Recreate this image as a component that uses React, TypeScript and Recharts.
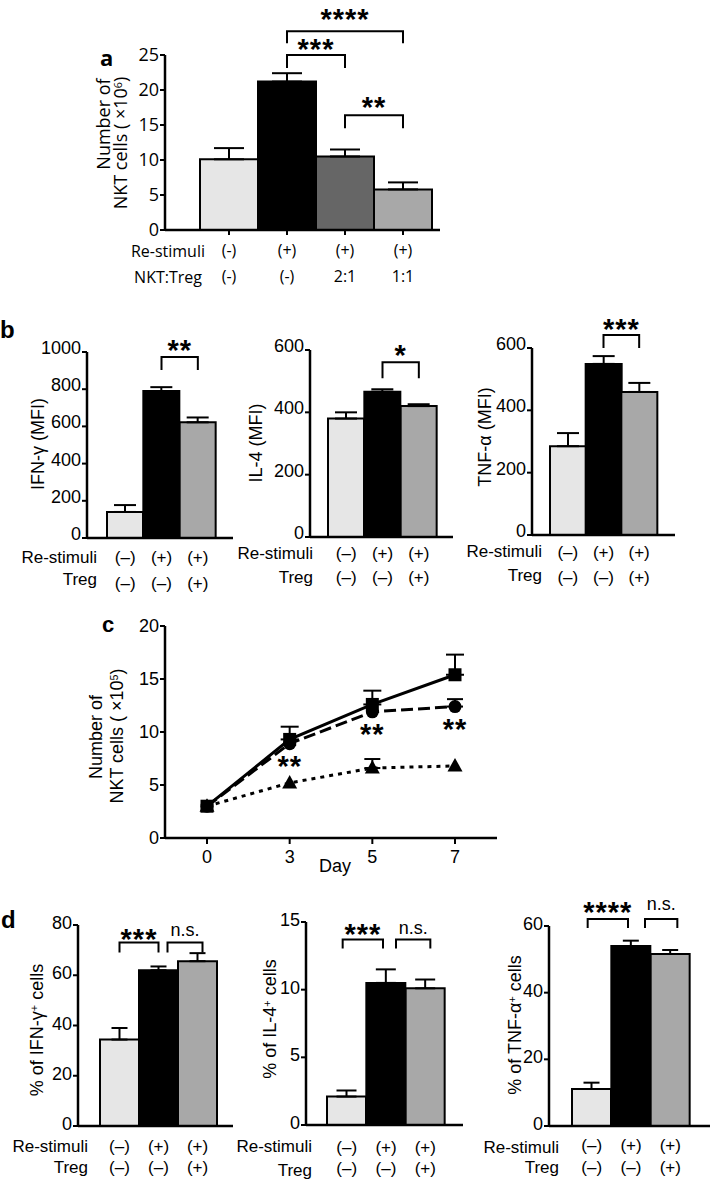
import React from "react";
import { Bar, BarChart, Cell, ErrorBar, LabelList, Line, LineChart, ReferenceLine, XAxis, YAxis } from "recharts";

const W = 713;
const H = 1180;
const SANS = "'Liberation Sans', Arial, sans-serif";
const OPEN = "'Open Sans', sans-serif";

// ---- panel a: NKT cell numbers
const aGroups = ["g1", "g2", "g3", "g4"];
const aRestim = ["(-)", "(+)", "(+)", "(+)"];
const aRatio = ["(-)", "(-)", "2:1", "1:1"];
const aCounts = [10.1, 21.2, 10.5, 5.8];
const aCountsErr = [1.6, 1.2, 1.0, 1.0];
const aTicks = [0, 5, 10, 15, 20, 25];
const aFills = ["#e6e6e6", "#000000", "#666666", "#a8a8a8"];

// ---- panels b, d: three groups
const gGroups = ["g1", "g2", "g3"];
const gRestim = ["(–)", "(+)", "(+)"];
const gTreg = ["(–)", "(–)", "(+)"];
const gFills = ["#e6e6e6", "#000000", "#a8a8a8"];

const ifnMfi = [140, 790, 622];
const ifnMfiErr = [37, 21, 26];
const il4Mfi = [380, 466, 420];
const il4MfiErr = [20, 8, 6];
const tnfMfi = [285, 549, 459];
const tnfMfiErr = [42, 25, 29];
const mfiTicks1000 = [0, 200, 400, 600, 800, 1000];
const mfiTicks600 = [0, 200, 400, 600];

const ifnPct = [34.4, 62, 65.6];
const ifnPctErr = [4.6, 1.5, 3.2];
const il4Pct = [2.1, 10.5, 10.1];
const il4PctErr = [0.45, 1.0, 0.65];
const tnfPct = [11.1, 54, 51.6];
const tnfPctErr = [1.9, 1.6, 1.2];
const pctTicks80 = [0, 20, 40, 60, 80];
const pctTicks15 = [0, 5, 10, 15];
const pctTicks60 = [0, 20, 40, 60];

// ---- panel c: growth curve
const days = ["0", "3", "5", "7"];
const restimOnly = [3.0, 9.3, 12.6, 15.4];
const restimOnlyErr = [null, 1.2, 1.3, 1.9];
const treg21 = [3.0, 8.9, 11.9, 12.4];
const treg21Err = [null, null, null, 0.7];
const treg11 = [3.0, 5.2, 6.6, 6.8];
const treg11Err = [null, null, 0.85, null];
const sigMarks = ["", "**", "**", "**"];
const cTicks = [0, 5, 10, 15, 20];

const YW = 50;
const MT = 60;
const MR = 4;
const XH = 60;
const AXIS = { stroke: "#000", strokeWidth: 2.5 };
const TICKLINE = { stroke: "#000", strokeWidth: 2 };

type Bracket = { from: string; to: string; y: number; text: string; drop: number; lift: number; nl?: number; nr?: number };

function bracketShape(b: Bracket, font: string) {
  return (props: any) => {
    const { x1, y1, x2 } = props;
    const a = x1 + (b.nl || 0);
    const c = x2 + (b.nr || 0);
    const stars = b.text.includes("*");
    const fs = stars ? 29 : 18;
    const base = y1 - b.lift + (stars ? 17 : 5);
    return (
      <g>
        <path d={`M${a},${y1 + b.drop}V${y1}H${c}V${y1 + b.drop}`} fill="none" stroke="#000" strokeWidth={2} />
        <text x={(a + c) / 2} y={base} textAnchor="middle" fontSize={fs} fontWeight={stars ? 700 : 400} fontFamily={stars ? SANS : font} letterSpacing={stars ? 1 : 0} fill="#000">
          {b.text}
        </text>
      </g>
    );
  };
}

function Txt({ x, y, anchor = "start", size = 17, font = SANS, weight = 400, rotate = false, children }: any) {
  const style: React.CSSProperties = {
    position: "absolute",
    top: y,
    fontSize: size,
    fontFamily: font,
    fontWeight: weight,
    lineHeight: 1,
    whiteSpace: "nowrap",
    color: "#000",
  };
  if (rotate) {
    style.left = x;
    style.transform = "translate(-50%, -50%) rotate(-90deg)";
  } else if (anchor === "end") {
    style.right = W - x;
    style.transform = "translateY(-50%)";
  } else if (anchor === "middle") {
    style.left = x;
    style.transform = "translate(-50%, -50%)";
  } else {
    style.left = x;
    style.transform = "translateY(-50%)";
  }
  return <div style={style}>{children}</div>;
}

const Sup = ({ children }: any) => (
  <span style={{ fontSize: "0.6em", position: "relative", top: "-0.5em" }}>{children}</span>
);

type BarPanelProps = {
  box: { x0: number; y0: number; x1: number; y1: number; padL: number; padR: number };
  groups: string[];
  values: number[];
  errs: number[];
  fills: string[];
  domain: [number, number];
  ticks: number[];
  rowA: string[];
  rowB: string[];
  rowDy: [number, number];
  font: string;
  tickFont: number;
  rowFont: number;
  capW: number;
  yShift: number;
  xTicks: boolean;
  brackets: Bracket[];
};

function BarPanel(p: BarPanelProps) {
  const { x0, y0, x1, y1, padL, padR } = p.box;
  const width = YW + (x1 - x0) + MR;
  const height = MT + (y1 - y0) + XH;
  const data = p.groups.map((g, i) => ({ g, v: p.values[i], e: [0, p.errs[i]] }));
  const xTickSize = p.xTicks ? 5 : 0;
  return (
    <div style={{ position: "absolute", left: x0 - YW, top: y0 - MT }}>
      <BarChart width={width} height={height} data={data} margin={{ top: MT, right: MR, left: 0, bottom: 0 }} barCategoryGap={0}>
        <XAxis
          dataKey="g"
          type="category"
          height={XH}
          padding={{ left: padL, right: padR }}
          axisLine={AXIS}
          tickLine={p.xTicks ? TICKLINE : false}
          tickSize={xTickSize}
          tickMargin={0}
          interval={0}
          tick={(t: any) => {
            const idx = t.index ?? t.payload?.index ?? 0;
            const base = t.y - xTickSize;
            return (
              <g>
                <text x={t.x} y={base + p.rowDy[0]} textAnchor="middle" dominantBaseline="central" fontSize={p.rowFont} fontFamily={p.font} fill="#000">
                  {p.rowA[idx]}
                </text>
                <text x={t.x} y={base + p.rowDy[1]} textAnchor="middle" dominantBaseline="central" fontSize={p.rowFont} fontFamily={p.font} fill="#000">
                  {p.rowB[idx]}
                </text>
              </g>
            );
          }}
        />
        <YAxis
          type="number"
          domain={p.domain}
          ticks={p.ticks}
          width={YW}
          interval={0}
          axisLine={AXIS}
          tickLine={TICKLINE}
          tickSize={5}
          tickMargin={1}
          tick={(t: any) => (
            <text x={t.x} y={t.y + p.yShift} textAnchor="end" dominantBaseline="central" fontSize={p.tickFont} fontFamily={p.font} fill="#000">
              {t.payload.value}
            </text>
          )}
        />
        <Bar dataKey="v" stroke="#000" strokeWidth={2} isAnimationActive={false}>
          {data.map((d, i) => (
            <Cell key={d.g} fill={p.fills[i]} />
          ))}
          <ErrorBar dataKey="e" width={p.capW} stroke="#000" strokeWidth={2} direction="y" isAnimationActive={false} />
        </Bar>
        {p.brackets.map((b, i) => (
          <ReferenceLine
            key={i}
            segment={[
              { x: b.from, y: b.y },
              { x: b.to, y: b.y },
            ]}
            ifOverflow="visible"
            shape={bracketShape(b, p.font)}
          />
        ))}
      </BarChart>
    </div>
  );
}

function GrowthPanel() {
  const x0 = 165, y0 = 626, x1 = 497, y1 = 838;
  const width = YW + (x1 - x0) + MR;
  const height = MT + (y1 - y0) + XH;
  const data = days.map((d, i) => ({
    day: d,
    sq: restimOnly[i],
    sqE: restimOnlyErr[i] == null ? null : [0, restimOnlyErr[i]],
    ci: treg21[i],
    ciE: treg21Err[i] == null ? null : [0, treg21Err[i]],
    tr: treg11[i],
    trE: treg11Err[i] == null ? null : [0, treg11Err[i]],
    sig: sigMarks[i],
  }));
  return (
    <div style={{ position: "absolute", left: x0 - YW, top: y0 - MT }}>
      <LineChart width={width} height={height} data={data} margin={{ top: MT, right: MR, left: 0, bottom: 0 }}>
        <XAxis
          dataKey="day"
          type="category"
          height={XH}
          padding={{ left: 42, right: 42 }}
          axisLine={AXIS}
          tickLine={TICKLINE}
          tickSize={6}
          tickMargin={0}
          interval={0}
          tick={(t: any) => (
            <text x={t.x} y={t.y - 6 + 19} textAnchor="middle" dominantBaseline="central" fontSize={18} fontFamily={SANS} fill="#000">
              {t.payload.value}
            </text>
          )}
        />
        <YAxis
          type="number"
          domain={[0, 20]}
          ticks={cTicks}
          width={YW}
          interval={0}
          axisLine={AXIS}
          tickLine={TICKLINE}
          tickSize={5}
          tickMargin={1}
          tick={(t: any) => (
            <text x={t.x} y={t.y} textAnchor="end" dominantBaseline="central" fontSize={18} fontFamily={SANS} fill="#000">
              {t.payload.value}
            </text>
          )}
        />
        <Line
          dataKey="tr"
          type="linear"
          stroke="#000"
          strokeWidth={3}
          strokeDasharray="4 5"
          isAnimationActive={false}
          dot={(d: any) => (
            <polygon key={`t${d.index}`} points={`${d.cx},${d.cy - 8} ${d.cx - 7.5},${d.cy + 5.5} ${d.cx + 7.5},${d.cy + 5.5}`} fill="#000" />
          )}
        >
          <ErrorBar dataKey="trE" width={8} stroke="#000" strokeWidth={2} direction="y" isAnimationActive={false} />
        </Line>
        <Line
          dataKey="ci"
          type="linear"
          stroke="#000"
          strokeWidth={3}
          strokeDasharray="12 5"
          isAnimationActive={false}
          dot={(d: any) => <circle key={`c${d.index}`} cx={d.cx} cy={d.cy} r={6.5} fill="#000" />}
        >
          <ErrorBar dataKey="ciE" width={8} stroke="#000" strokeWidth={2} direction="y" isAnimationActive={false} />
          <LabelList
            dataKey="sig"
            content={(l: any) =>
              l.value ? (
                <text x={l.x} y={Number(l.y) + 15 + 17} textAnchor="middle" fontSize={29} fontWeight={700} letterSpacing={1} fontFamily={SANS} fill="#000">
                  {l.value}
                </text>
              ) : null
            }
          />
        </Line>
        <Line
          dataKey="sq"
          type="linear"
          stroke="#000"
          strokeWidth={3}
          isAnimationActive={false}
          dot={(d: any) => <rect key={`s${d.index}`} x={d.cx - 6.5} y={d.cy - 6.5} width={13} height={13} fill="#000" />}
        >
          <ErrorBar dataKey="sqE" width={9} stroke="#000" strokeWidth={2} direction="y" isAnimationActive={false} />
        </Line>
      </LineChart>
    </div>
  );
}

export default function App() {
  const common3 = { groups: gGroups, fills: gFills, rowA: gRestim, rowB: gTreg, font: SANS, tickFont: 18, rowFont: 17, xTicks: false };
  return (
    <div style={{ position: "absolute", left: 0, top: 0, width: W, height: H, overflow: "hidden", background: "#fff", fontFamily: SANS }}>
      {/* a */}
      <BarPanel
        box={{ x0: 165, y0: 55, x1: 440, y1: 230, padL: 35, padR: 8 }}
        groups={aGroups}
        values={aCounts}
        errs={aCountsErr}
        fills={aFills}
        domain={[0, 25]}
        ticks={aTicks}
        rowA={aRestim}
        rowB={aRatio}
        rowDy={[20, 46]}
        font={OPEN}
        tickFont={18}
        rowFont={16}
        capW={15}
        yShift={-1}
        xTicks={true}
        brackets={[
          { from: "g2", to: "g3", y: 25.0, text: "***", drop: 13, lift: 13 },
          { from: "g2", to: "g4", y: 28.4, text: "****", drop: 12, lift: 19 },
          { from: "g3", to: "g4", y: 16.4, text: "**", drop: 13, lift: 15 },
        ]}
      />
      <Txt x={100} y={57} size={22} weight={700} font={OPEN}>a</Txt>
      <Txt x={103} y={124} rotate size={18} font={OPEN}>Number of</Txt>
      <Txt x={120} y={143} rotate size={18} font={OPEN}>
        NKT cells ( ×10<Sup>6</Sup>)
      </Txt>
      <Txt x={205} y={251} anchor="end" size={16} font={OPEN}>Re-stimuli</Txt>
      <Txt x={202} y={277} anchor="end" size={16} font={OPEN}>NKT:Treg</Txt>

      {/* b */}
      <Txt x={0} y={330} size={24} weight={700}>b</Txt>
      <BarPanel
        {...common3}
        box={{ x0: 87, y0: 352, x1: 233, y1: 538, padL: 20, padR: 17 }}
        values={ifnMfi}
        errs={ifnMfiErr}
        domain={[0, 1000]}
        ticks={mfiTicks1000}
        rowDy={[19, 45]}
        capW={11}
        yShift={-4}
        brackets={[{ from: "g2", to: "g3", y: 973, text: "**", drop: 13, lift: 14 }]}
      />
      <Txt x={38} y={444} rotate size={18}>IFN-γ (MFI)</Txt>
      <Txt x={97} y={557} anchor="end">Re-stimuli</Txt>
      <Txt x={97} y={579} anchor="end">Treg</Txt>

      <BarPanel
        {...common3}
        box={{ x0: 310, y0: 350, x1: 453, y1: 537, padL: 18, padR: 16 }}
        values={il4Mfi}
        errs={il4MfiErr}
        domain={[0, 600]}
        ticks={mfiTicks600}
        rowDy={[16, 40]}
        capW={11}
        yShift={-4}
        brackets={[{ from: "g2", to: "g3", y: 561, text: "*", drop: 16, lift: 14 }]}
      />
      <Txt x={256} y={443} rotate size={18}>IL-4 (MFI)</Txt>
      <Txt x={313} y={553} anchor="end">Re-stimuli</Txt>
      <Txt x={313} y={577} anchor="end">Treg</Txt>

      <BarPanel
        {...common3}
        box={{ x0: 532, y0: 348, x1: 675, y1: 535, padL: 18, padR: 18 }}
        values={tnfMfi}
        errs={tnfMfiErr}
        domain={[0, 600]}
        ticks={mfiTicks600}
        rowDy={[17, 42]}
        capW={11}
        yShift={-4}
        brackets={[{ from: "g2", to: "g3", y: 642, text: "***", drop: 13, lift: 13 }]}
      />
      <Txt x={485} y={437} rotate size={18}>TNF-α (MFI)</Txt>
      <Txt x={542} y={551} anchor="end">Re-stimuli</Txt>
      <Txt x={542} y={575} anchor="end">Treg</Txt>

      {/* c */}
      <GrowthPanel />
      <Txt x={102} y={625} size={22} weight={700}>c</Txt>
      <Txt x={96} y={737} rotate size={18}>Number of</Txt>
      <Txt x={117} y={736} rotate size={18}>
        NKT cells ( ×10<Sup>5</Sup>)
      </Txt>
      <Txt x={335} y={866} anchor="middle" size={18}>Day</Txt>

      {/* d */}
      <Txt x={1} y={920} size={24} weight={700}>d</Txt>
      <BarPanel
        {...common3}
        box={{ x0: 78, y0: 925, x1: 233, y1: 1126, padL: 22, padR: 16 }}
        values={ifnPct}
        errs={ifnPctErr}
        domain={[0, 80]}
        ticks={pctTicks80}
        rowDy={[20, 41]}
        capW={8}
        yShift={-2}
        brackets={[
          { from: "g1", to: "g2", y: 73, text: "***", drop: 10, lift: 11 },
          { from: "g2", to: "g3", y: 73, text: "n.s.", drop: 10, lift: 12, nl: 9, nr: 5 },
        ]}
      />
      <Txt x={37} y={1030} rotate size={18}>
        % of IFN-γ<Sup>+</Sup> cells
      </Txt>
      <Txt x={88} y={1146} anchor="end">Re-stimuli</Txt>
      <Txt x={88} y={1167} anchor="end">Treg</Txt>

      <BarPanel
        {...common3}
        box={{ x0: 306, y0: 922, x1: 463, y1: 1125, padL: 21, padR: 18 }}
        values={il4Pct}
        errs={il4PctErr}
        domain={[0, 15]}
        ticks={pctTicks15}
        rowDy={[22, 43]}
        capW={10}
        yShift={-2}
        brackets={[
          { from: "g1", to: "g2", y: 13.7, text: "***", drop: 9, lift: 13, nl: -4, nr: -3 },
          { from: "g2", to: "g3", y: 13.7, text: "n.s.", drop: 9, lift: 11, nl: 10, nr: 5 },
        ]}
      />
      <Txt x={270} y={1019} rotate size={18}>
        % of IL-4<Sup>+</Sup> cells
      </Txt>
      <Txt x={312} y={1146} anchor="end">Re-stimuli</Txt>
      <Txt x={312} y={1170} anchor="end">Treg</Txt>

      <BarPanel
        {...common3}
        box={{ x0: 549, y0: 926, x1: 710, y1: 1126, padL: 23, padR: 20 }}
        values={tnfPct}
        errs={tnfPctErr}
        domain={[0, 60]}
        ticks={pctTicks60}
        rowDy={[19, 41]}
        capW={8}
        yShift={-2}
        brackets={[
          { from: "g1", to: "g2", y: 62.1, text: "****", drop: 9, lift: 14, nl: -4, nr: -3 },
          { from: "g2", to: "g3", y: 62.1, text: "n.s.", drop: 9, lift: 14, nl: 14, nr: 7 },
        ]}
      />
      <Txt x={515} y={1025} rotate size={18}>
        % of TNF-α<Sup>+</Sup> cells
      </Txt>
      <Txt x={559} y={1147} anchor="end">Re-stimuli</Txt>
      <Txt x={559} y={1167} anchor="end">Treg</Txt>
    </div>
  );
}
